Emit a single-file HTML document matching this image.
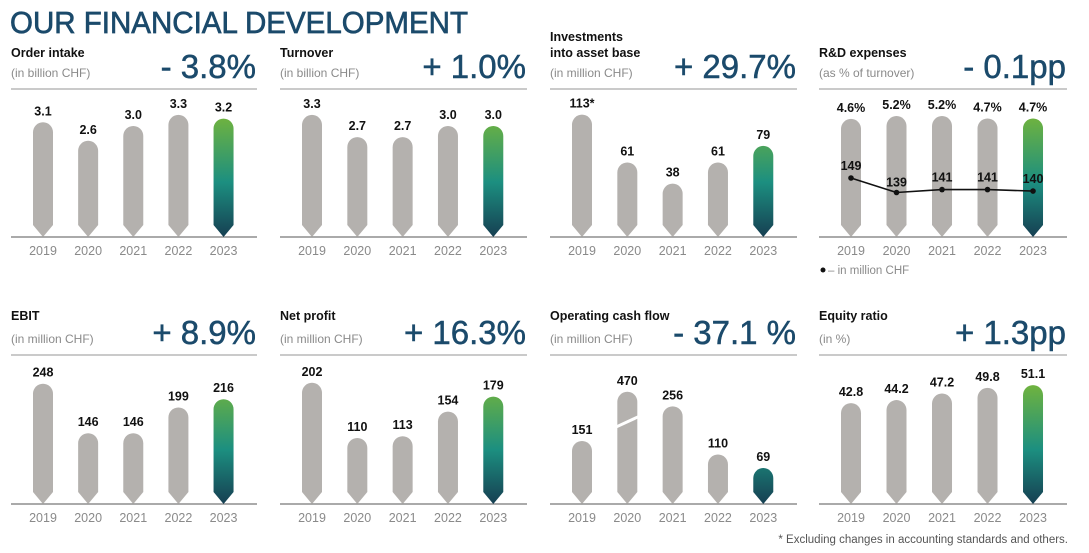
<!DOCTYPE html>
<html><head><meta charset="utf-8"><style>
html,body{margin:0;padding:0;background:#fff;}
svg{display:block;font-family:"Liberation Sans",Arial,sans-serif;}
</style></head><body>
<svg id="c" width="1089" height="553" viewBox="0 0 1089 553">
<defs>
<linearGradient id="g23r0" gradientUnits="userSpaceOnUse" x1="0" y1="115" x2="0" y2="237">
<stop offset="0" stop-color="#72b43c"/><stop offset="0.55" stop-color="#1c8f80"/><stop offset="1" stop-color="#163f52"/>
</linearGradient>
<linearGradient id="g23r1" gradientUnits="userSpaceOnUse" x1="0" y1="383" x2="0" y2="504">
<stop offset="0" stop-color="#72b43c"/><stop offset="0.55" stop-color="#1c8f80"/><stop offset="1" stop-color="#163f52"/>
</linearGradient>
</defs>
<text x="10" y="33" font-size="31" fill="#1b4a6b" stroke="#1b4a6b" stroke-width="0.7" textLength="458" lengthAdjust="spacingAndGlyphs">OUR FINANCIAL DEVELOPMENT</text>
<g id="panels"></g>
<text x="1068" y="543" font-size="11.5" fill="#555" text-anchor="end">* Excluding changes in accounting standards and others.</text>
</svg>
<script>
const years = ["2019","2020","2021","2022","2023"];
const orderIntake = [3.1, 2.6, 3.0, 3.3, 3.2];
const orderIntakeLabels = ["3.1","2.6","3.0","3.3","3.2"];
const turnover = [3.3, 2.7, 2.7, 3.0, 3.0];
const turnoverLabels = ["3.3","2.7","2.7","3.0","3.0"];
const investments = [113, 61, 38, 61, 79];
const investmentsLabels = ["113*","61","38","61","79"];
const rdPercent = [4.6, 5.2, 5.2, 4.7, 4.7];
const rdPercentLabels = ["4.6%","5.2%","5.2%","4.7%","4.7%"];
const rdMillion = [149, 139, 141, 141, 140];
const ebit = [248, 146, 146, 199, 216];
const netProfit = [202, 110, 113, 154, 179];
const opCashFlow = [151, 470, 256, 110, 69];
const equityRatio = [42.8, 44.2, 47.2, 49.8, 51.1];
const equityLabels = ["42.8","44.2","47.2","49.8","51.1"];

const NS = "http://www.w3.org/2000/svg";
const root = document.getElementById('panels');
function mk(tag, attrs, parent, text){
  const e = document.createElementNS(NS, tag);
  for (const k in attrs) e.setAttribute(k, attrs[k]);
  if (text !== undefined) e.textContent = text;
  (parent||root).appendChild(e); return e;
}
const panels = [
  {x0:11,x1:257,row:0,title:["Order intake"],sub:"(in billion CHF)",big:"- 3.8%",vals:orderIntake,labels:orderIntakeLabels,d0:0,k:37,name:"order-intake"},
  {x0:280,x1:527,row:0,title:["Turnover"],sub:"(in billion CHF)",big:"+ 1.0%",vals:turnover,labels:turnoverLabels,d0:0,k:37,name:"turnover"},
  {x0:550,x1:797,row:0,title:["Investments","into asset base"],sub:"(in million CHF)",big:"+ 29.7%",vals:investments,labels:investmentsLabels,d0:-20,k:0.92,name:"investments"},
  {x0:819,x1:1067,row:0,title:["R&D expenses"],sub:"(as % of turnover)",big:"- 0.1pp",vals:rdPercent,labels:rdPercentLabels,d0:-20,k:4.8,name:"rd-expenses",line:rdMillion},
  {x0:11,x1:257,row:1,title:["EBIT"],sub:"(in million CHF)",big:"+ 8.9%",vals:ebit,labels:null,d0:0,k:0.485,name:"ebit"},
  {x0:280,x1:527,row:1,title:["Net profit"],sub:"(in million CHF)",big:"+ 16.3%",vals:netProfit,labels:null,d0:0,k:0.6,name:"net-profit"},
  {x0:550,x1:797,row:1,title:["Operating cash flow"],sub:"(in million CHF)",big:"- 37.1 %",vals:opCashFlow,labels:null,d0:-40,k:0.33,cap:300,name:"operating-cash-flow"},
  {x0:819,x1:1067,row:1,title:["Equity ratio"],sub:"(in %)",big:"+ 1.3pp",vals:equityRatio,labels:equityLabels,d0:-3.7,k:2.17,name:"equity-ratio"}
];
panels.forEach(p=>{
  const g = mk('g',{});
  
  
  const oy = p.row===0 ? 0 : 266;
  const base = p.row===0 ? 237 : 504;
  const lineY = p.row===0 ? 89 : 355;
  const yr = p.row===0 ? 255 : 522;
  if (p.title.length===2){
    p.title.forEach((t,i)=>{const e=mk('text',{x:p.x0,y:41+i*16,'font-size':12.5,'font-weight':'bold',fill:'#111'},g,t);
      });
  } else {
    const e=mk('text',{x:p.x0,y:57+oy-3*p.row,'font-size':12.5,'font-weight':'bold',fill:'#111'},g,p.title[0]);
    
  }
  let e=mk('text',{x:p.x0,y:77+oy,'font-size':12,fill:'#8a8a8a'},g,p.sub);
  
  e=mk('text',{x:p.x1-1,y:78+oy,'font-size':33,fill:'#1b4a6b',stroke:'#1b4a6b','stroke-width':0.5,'text-anchor':'end'},g,p.big);
  
  mk('line',{x1:p.x0,x2:p.x1,y1:lineY,y2:lineY,stroke:'#aaa','stroke-width':1.3},g);
  mk('line',{x1:p.x0,x2:p.x1,y1:base,y2:base,stroke:'#777','stroke-width':1.3},g);
  const step = (p.x1-p.x0)/5.45;
  const cx = i => p.x0 + 32 + i*step;
  const hOf = v => { const vv = p.cap ? Math.min(v,p.cap) : v; return (vv - p.d0)*p.k; };
  const w=20, r=10, tip=12;
  p.vals.forEach((v,i)=>{
    const x=cx(i), h=hOf(v), top=base-h;
    const d=`M${x-w/2},${top+r} A${r},${r} 0 0 1 ${x+w/2},${top+r} L${x+w/2},${base-tip} L${x},${base} L${x-w/2},${base-tip} Z`;
    const b=mk('path',{d:d,fill:i===4?'url(#g23r'+p.row+')':'#b4b1ae'},g);
    
    
    if (p.cap && v>p.cap){
      mk('line',{x1:x-w/2-3,y1:top+r+26,x2:x+w/2+3,y2:top+r+14,stroke:'#fff','stroke-width':3},g);
    }
    const lbl = p.labels ? p.labels[i] : String(v);
    const t=mk('text',{x:x,y:top-7,'font-size':12.5,'font-weight':'bold',fill:'#111','text-anchor':'middle'},g,lbl);
    
    
    const yt=mk('text',{x:x,y:yr,'font-size':12.5,fill:'#8a8a8a','text-anchor':'middle'},g,years[i]);
    
    
  });
  if (p.line){
    const ly = v => 178 + (149 - v)*1.45;
    const pts = p.line.map((v,i)=>cx(i)+','+ly(v)).join(' ');
    const pl=mk('polyline',{points:pts,fill:'none',stroke:'#111','stroke-width':1.6},g);
    
    
    p.line.forEach((v,i)=>{
      const c=mk('circle',{cx:cx(i),cy:ly(v),r:2.8,fill:'#111'},g);
      
      
      const t=mk('text',{x:cx(i),y:ly(v)-(i===1?6:8),'font-size':12.5,'font-weight':'bold',fill:'#111','text-anchor':'middle'},g,String(v));
      
      
    });
    mk('circle',{cx:p.x0+4,cy:270,r:2.5,fill:'#111'},g);
    const lg=mk('text',{x:p.x0+9,y:274,'font-size':11.5,fill:'#8a8a8a'},g,"– in million CHF");
    
    
  }
});
</script>
</body></html>
